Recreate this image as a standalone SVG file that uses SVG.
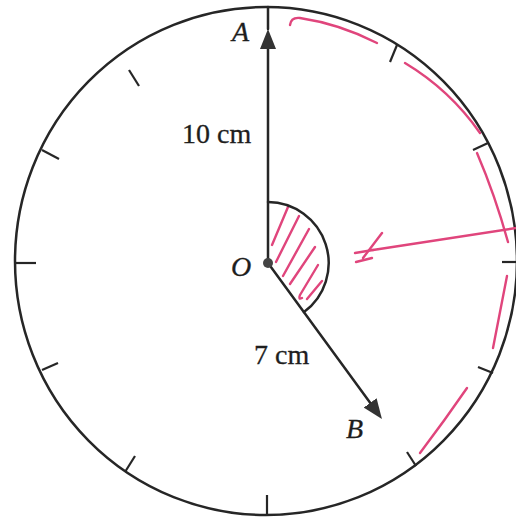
<svg xmlns="http://www.w3.org/2000/svg" width="516" height="519" viewBox="0 0 516 519">
<style>
.ink{stroke:#262626;fill:none;stroke-width:2.5;stroke-linecap:round}
.tick{stroke:#262626;fill:none;stroke-width:2.2}
.pink{stroke:#e0457c;fill:none;stroke-width:2.4;stroke-linecap:round;stroke-linejoin:round}
.lbl{font-family:"Liberation Serif","Times New Roman",serif;font-size:28px;fill:#1e1e1e;stroke:#1e1e1e;stroke-width:0.3}
.it{font-style:italic}
</style>
<defs>
<marker id="arr" viewBox="0 0 20 16" refX="4" refY="8" markerWidth="20" markerHeight="16" markerUnits="userSpaceOnUse" orient="auto">
<path d="M0,0 L20,8 L0,16 Z" fill="#333"/>
</marker>
</defs>
<rect width="516" height="519" fill="#fff"/>
<g id="clock">
<ellipse cx="266" cy="261" rx="251" ry="254" class="ink"/>
<g id="ticks">
<line x1="397" y1="45" x2="390" y2="62" class="tick"/>
<line x1="488" y1="143" x2="473" y2="150" class="tick"/>
<line x1="516" y1="262" x2="502" y2="262" class="tick"/>
<line x1="493" y1="373" x2="478" y2="367" class="tick"/>
<line x1="416" y1="466" x2="407" y2="452" class="tick"/>
<line x1="267" y1="515" x2="267" y2="495" class="tick"/>
<line x1="125" y1="472" x2="135" y2="456" class="tick"/>
<line x1="42" y1="370" x2="58" y2="363" class="tick"/>
<line x1="15" y1="263" x2="36" y2="263" class="tick"/>
<line x1="42" y1="150" x2="59" y2="159" class="tick"/>
<line x1="129" y1="70" x2="139" y2="86" class="tick"/>
</g>
</g>
<g id="sector">
<g class="pink">
<path d="M288,207 L272,245"/>
<path d="M299,216 L276,262"/>
<path d="M309,229 L283,276"/>
<path d="M315,247 L290,284"/>
<path d="M318,265 L300,295 Q298,300 302,298"/>
<path d="M322,281 L307,299"/>
</g>
<path d="M268,202 A61,61 0 0 1 304,312" class="ink"/>
</g>
<g id="connectors">
<line x1="268" y1="263" x2="268" y2="45" class="ink" marker-end="url(#arr)"/>
<line x1="268" y1="29" x2="268" y2="7" class="ink"/>
<line x1="268" y1="263" x2="372.5" y2="406.1" class="ink" marker-end="url(#arr)"/>
</g>
<g id="point-O">
<circle cx="268" cy="263" r="5" fill="#444"/>
<text x="231" y="276" class="lbl it">O</text>
</g>
<g id="label-A"><text x="232" y="41" class="lbl it">A</text></g>
<g id="label-B"><text x="346" y="438" class="lbl it">B</text></g>
<g id="label-10cm"><text x="182" y="143" class="lbl">10 cm</text></g>
<g id="label-7cm"><text x="254" y="364" class="lbl">7 cm</text></g>
<g id="annotations" class="pink">
<path d="M290,25 Q291,17 300,18 Q340,24 377,43"/>
<path d="M405,63 Q450,90 480,133"/>
<path d="M477,153 Q495,195 508,242"/>
<path d="M507,276 Q500,312 493,348"/>
<path d="M467,388 Q445,420 420,453"/>
<path d="M516,228 L373,250"/>
<path d="M382,233 L363,258"/>
<path d="M355,253 L373,250"/>
<path d="M356,262 L372,258"/>
</g>
</svg>
